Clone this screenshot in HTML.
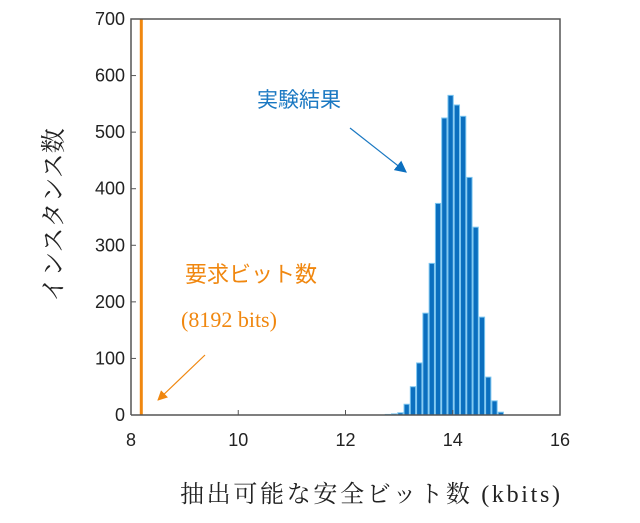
<!DOCTYPE html>
<html><head><meta charset="utf-8"><style>
body{margin:0;background:#fff;width:640px;height:518px;overflow:hidden}
svg{font-family:"Liberation Sans","Noto Sans CJK JP",sans-serif}
</style></head><body>
<svg width="640" height="518">
<g id="plot"></g>
</svg>
<script>
const binCenterStart = 12.79;
const binWidth = 0.117;
const counts = [1,2,4,19,50,92,180,268,374,525,565,548,528,420,332,173,67,25,5];
const xTicks = [8,10,12,14,16];
const yTicks = [0,100,200,300,400,500,600,700];
const requiredBits = 8.192;

const X0=131,X1=560,Y0=415,Y1=19;
const xs=v=>X0+(v-8)/(16-8)*(X1-X0);
const ys=v=>Y0-(v/700)*(Y0-Y1);
const NS="http://www.w3.org/2000/svg";
const g=document.getElementById('plot');
function mk(t,a){const e=document.createElementNS(NS,t);for(const k in a)e.setAttribute(k,a[k]);g.appendChild(e);return e;}

counts.forEach((c,i)=>{
  const cx=binCenterStart+i*binWidth;
  const b=mk('rect',{x:xs(cx-binWidth/2)+0.5,y:ys(c),width:xs(cx+binWidth/2)-xs(cx-binWidth/2)-1,height:Y0-ys(c),fill:'#0b6fbf',stroke:'#7cc6f0','stroke-width':1});
  
  
});
const rl=mk('line',{x1:xs(requiredBits),x2:xs(requiredBits),y1:Y1,y2:Y0,stroke:'#f0870f','stroke-width':3});



const ax=mk('path',{d:`M${X0},${Y0}V${Y1}H${X1}V${Y0}H${X0}`,fill:'none',stroke:'#555','stroke-width':1.5});


xTicks.forEach(t=>{
  mk('line',{x1:xs(t),x2:xs(t),y1:Y0,y2:Y0-5,stroke:'#555'});
  const tx=mk('text',{x:xs(t),y:Y0+31,'text-anchor':'middle','font-size':18,fill:'#222'});
  tx.textContent=t;
  
  
});
yTicks.forEach(t=>{
  mk('line',{x1:X0,x2:X0+5,y1:ys(t),y2:ys(t),stroke:'#555'});
  const tx=mk('text',{x:X0-6,y:ys(t)+6,'text-anchor':'end','font-size':18,fill:'#222'});
  tx.textContent=t;
  
  
});
</script>
<svg width="640" height="518" style="position:absolute;left:0;top:0">
<defs>
<marker id="ab" viewBox="0 0 10 10" refX="9" refY="5" markerWidth="12" markerHeight="12" markerUnits="userSpaceOnUse" orient="auto"><path d="M0,0L10,5L0,10z" fill="#0b6fbf"/></marker>
<marker id="ao" viewBox="0 0 10 10" refX="9" refY="5" markerWidth="10" markerHeight="10" markerUnits="userSpaceOnUse" orient="auto"><path d="M0,0L10,5L0,10z" fill="#f0870f"/></marker>
</defs>
<text x="257" y="107" font-size="21" fill="#1a78c2" font-family="Noto Sans CJK JP,sans-serif">実験結果</text>
<line x1="350" y1="128" x2="406" y2="172" stroke="#1a78c2" stroke-width="1.2" marker-end="url(#ab)"/>
<text x="185" y="282" font-size="22" fill="#f0870f" font-family="Noto Sans CJK JP,sans-serif">要求ビット数</text>
<text x="181" y="327" font-size="22" fill="#f0870f" font-family="Liberation Serif,serif">(8192 bits)</text>
<line x1="205" y1="355" x2="158" y2="400" stroke="#f0870f" stroke-width="1.2" marker-end="url(#ao)"/>
<text transform="translate(62,215) rotate(-90)" text-anchor="middle" font-size="25" fill="#222" font-family="Noto Serif CJK SC,serif">インスタンス数</text>
<text x="370" y="502" text-anchor="middle" font-size="24" fill="#222" font-family="Liberation Serif,Noto Serif CJK SC,serif" textLength="380">抽出可能な安全ビット数 (kbits)</text>
</svg>
</body></html>
